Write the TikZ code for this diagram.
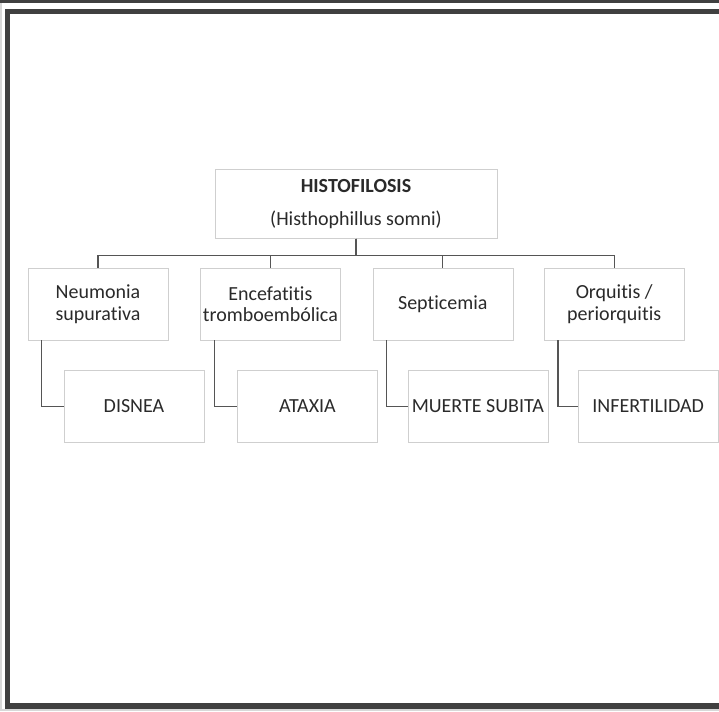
\documentclass[tikz,border=0pt]{standalone}
\usepackage{fontspec}
\setmainfont{Carlito}[Ligatures={NoCommon}]
\usetikzlibrary{positioning}
\definecolor{framegray}{HTML}{404040}
\definecolor{edgegray}{HTML}{D8D8D8}
\definecolor{boxgray}{HTML}{CFCFCF}
\definecolor{linkgray}{HTML}{555555}
\definecolor{textgray}{HTML}{2A2A2A}

\begin{document}
\begin{tikzpicture}[x=1pt, y=1pt, box/.style = {draw=boxgray, fill=white, align=center, text=textgray, inner sep=0, minimum width=140pt, minimum height=72pt, font=\fontsize{20}{21.5}\selectfont}, node distance=32pt]

\useasboundingbox (0,0) rectangle (719,711);

% frame
\fill[edgegray] (0,0) rectangle (2,711);
\fill[edgegray] (0,0) rectangle (719,2);
\fill[framegray] (0,708) rectangle (719,711);
\fill[framegray] (5,697) rectangle (719,702);
\fill[framegray] (5,2) rectangle (10,702);
\fill[framegray] (5,2) rectangle (719,8);

\node[box, minimum width=282pt, minimum height=69pt](top) at (356,507){\textbf{HISTOFILOSIS}\\[12pt](Histhophillus somni)};

\node[box](neu) at (98,407){Neumonia\\supurativa};
\node[box, right=of neu](enc){Encefatitis\\tromboembólica};
\node[box, right=of enc](sep){Septicemia};
\node[box, right=31pt of sep](orq){Orquitis /\\periorquitis};

\node[box, below=30pt of neu, xshift=36pt](dis){DISNEA};
\node[box, below=30pt of enc, xshift=37pt](ata){ATAXIA};
\node[box, below=30pt of sep, xshift=35pt](mue){MUERTE SUBITA};
\node[box, below=30pt of orq, xshift=34pt](inf){INFERTILIDAD};

\draw [linkgray, line width=1.2pt] (top.south) -- ++(0,-17) -| (neu.north);
\draw [linkgray, line width=1.2pt] (top.south) -- ++(0,-17) -| (enc.north);
\draw [linkgray, line width=1.2pt] (top.south) -- ++(0,-17) -| (sep.north);
\draw [linkgray, line width=1.2pt] (top.south) -- ++(0,-17) -| (orq.north);

\draw [linkgray, line width=1.2pt] ([xshift=14pt]neu.south west) |- (dis.west);
\draw [linkgray, line width=1.2pt] ([xshift=14pt]enc.south west) |- (ata.west);
\draw [linkgray, line width=1.2pt] ([xshift=14pt]sep.south west) |- (mue.west);
\draw [linkgray, line width=1.2pt] ([xshift=14pt]orq.south west) |- (inf.west);

\end{tikzpicture}
\end{document}
